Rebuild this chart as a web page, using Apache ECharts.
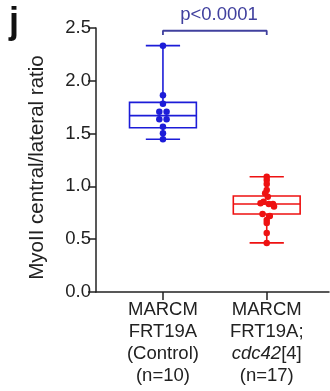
<!DOCTYPE html>
<html>
<head>
<meta charset="utf-8">
<script src="https://cdn.jsdelivr.net/npm/echarts@6/dist/echarts.min.js"></script>
<style>
  html, body { margin: 0; padding: 0; background: #fff; }
  #chart { width: 330px; height: 391px; }
</style>
</head>
<body>
<div id="chart"></div>
<script>
// groups on the x axis (positions 0 and 1)
var groupPos = [0, 1];
var groupColors = ["#1c1cd8", "#ee1111"];
// box stats: [x, lowWhisker, q1, median, q3, highWhisker]
var ctrlBox = [0, 1.446, 1.556, 1.670, 1.796, 2.333];
var cdcBox = [1, 0.465, 0.739, 0.833, 0.909, 1.092];
// individual points [x (with small jitter), ratio]
var ctrlPoints = [
  [0, 2.333], [0, 1.862], [0, 1.783], [-0.035, 1.707], [0.035, 1.707],
  [-0.035, 1.635], [0.035, 1.635], [0, 1.566], [0, 1.503], [0, 1.446]
];
var cdcPoints = [
  [1, 1.092], [1, 1.061], [1, 1.023], [1, 0.966], [0.985, 0.935],
  [1.01, 0.902], [0.97, 0.855], [0.94, 0.840], [1.02, 0.833], [1.06, 0.833],
  [1.07, 0.810], [0.96, 0.739], [1.03, 0.720], [1, 0.682], [1, 0.653],
  [1, 0.559], [1, 0.465]
];
var yTicks = [0, 0.5, 1.0, 1.5, 2.0, 2.5];
var bracket = [[0, 2.433], [0, 2.474], [1, 2.474], [1, 2.433]];
var pText = "p<0.0001";

var boxHalf = 0.322;  // half box width, x units
var capHalf = 0.165;  // half whisker cap width

function renderBox(params, api) {
  var x = api.value(0);
  var color = groupColors[params.dataIndex];
  var lo = api.coord([x, api.value(1)]);
  var q1 = api.coord([x, api.value(2)]);
  var md = api.coord([x, api.value(3)]);
  var q3 = api.coord([x, api.value(4)]);
  var hi = api.coord([x, api.value(5)]);
  var bl = api.coord([x - boxHalf, 0])[0];
  var br = api.coord([x + boxHalf, 0])[0];
  var cl = api.coord([x - capHalf, 0])[0];
  var cr = api.coord([x + capHalf, 0])[0];
  var st = { stroke: color, lineWidth: 1.6, fill: null };
  return {
    type: "group",
    children: [
      { type: "rect", shape: { x: bl, y: q3[1], width: br - bl, height: q1[1] - q3[1] }, style: st },
      { type: "line", shape: { x1: bl, y1: md[1], x2: br, y2: md[1] }, style: st },
      { type: "line", shape: { x1: hi[0], y1: hi[1], x2: q3[0], y2: q3[1] }, style: st },
      { type: "line", shape: { x1: lo[0], y1: lo[1], x2: q1[0], y2: q1[1] }, style: st },
      { type: "line", shape: { x1: cl, y1: hi[1], x2: cr, y2: hi[1] }, style: st },
      { type: "line", shape: { x1: cl, y1: lo[1], x2: cr, y2: lo[1] }, style: st }
    ]
  };
}

var labelText = {
  0: "MARCM\nFRT19A\n(Control)\n(n=10)",
  1: "MARCM\nFRT19A;\n{i|cdc42}[4]\n(n=17)"
};

var chart = echarts.init(document.getElementById("chart"));
chart.setOption({
  animation: false,
  textStyle: { fontFamily: "Liberation Sans, Arial, sans-serif" },
  grid: { left: 96, right: 1, top: 28, bottom: 99, containLabel: false, outerBoundsMode: "none" },
  xAxis: {
    type: "value",
    min: -0.645,
    max: 1.6,
    splitLine: { show: false },
    axisLine: { show: true, onZero: false, lineStyle: { color: "#222", width: 1.5 } },
    axisTick: { show: true, customValues: groupPos, length: 8, lineStyle: { color: "#222", width: 1.5 } },
    axisLabel: {
      show: true,
      customValues: groupPos,
      margin: 7,
      color: "#222",
      fontSize: 18.5,
      lineHeight: 22,
      formatter: function (v) { return labelText[Math.round(v)] || ""; },
      rich: { i: { fontStyle: "italic", fontSize: 18.5, lineHeight: 22, color: "#222" } }
    }
  },
  yAxis: {
    type: "value",
    min: 0,
    max: 2.5,
    interval: 0.5,
    splitLine: { show: false },
    axisLine: { show: true, onZero: false, lineStyle: { color: "#222", width: 1.5 } },
    axisTick: { show: true, length: 8, lineStyle: { color: "#222", width: 1.5 } },
    axisLabel: {
      color: "#222",
      fontSize: 18.5,
      margin: 5,
      formatter: function (v) { return v.toFixed(1); }
    }
  },
  graphic: [
    { type: "text", left: 9, top: 5, style: { text: "j", font: "bold 36px Liberation Sans, Arial, sans-serif", fill: "#111" } },
    {
      type: "text", x: 37, y: 167.5, rotation: Math.PI / 2,
      style: { text: "MyoII central/lateral ratio", font: "20.5px Liberation Sans, Arial, sans-serif", fill: "#222", align: "center", verticalAlign: "middle" }
    },
    {
      type: "text", x: 219, y: 15,
      style: { text: pText, font: "18.5px Liberation Sans, Arial, sans-serif", fill: "#40409e", align: "center", verticalAlign: "middle" }
    }
  ],
  series: [
    {
      type: "custom",
      renderItem: renderBox,
      data: [ctrlBox, cdcBox],
      z: 2
    },
    {
      type: "scatter",
      data: ctrlPoints,
      symbolSize: 6.5,
      itemStyle: { color: groupColors[0], opacity: 1 },
      z: 3
    },
    {
      type: "scatter",
      data: cdcPoints,
      symbolSize: 6.5,
      itemStyle: { color: groupColors[1], opacity: 1 },
      z: 3
    },
    {
      type: "line",
      data: bracket,
      symbol: "none",
      clip: false,
      lineStyle: { color: "#40409e", width: 1.8 },
      z: 3
    }
  ]
});
</script>
</body>
</html>
